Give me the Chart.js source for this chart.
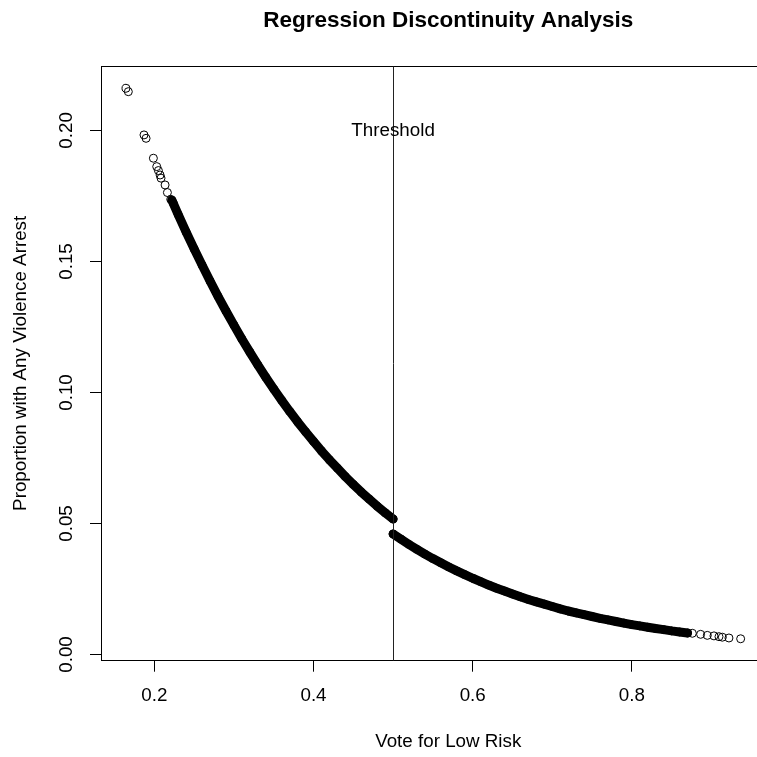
<!DOCTYPE html>
<html>
<head>
<meta charset="utf-8">
<script src="https://cdn.jsdelivr.net/npm/chart.js@4/dist/chart.umd.min.js"></script>
<style>
  html, body { margin: 0; padding: 0; background: #fff; }
  #wrap { width: 757px; height: 757px; overflow: hidden; }
</style>
</head>
<body>
<div id="wrap"><canvas id="rd" width="848" height="757"></canvas></div>
<script>
// values
var leftTailX = [0.1644, 0.1673, 0.1870, 0.1896, 0.1988, 0.2030, 0.2051, 0.2072, 0.2084, 0.2135, 0.2164, 0.2206, 0.2239];
var leftTailY = [0.2161, 0.2148, 0.1983, 0.1970, 0.1894, 0.1862, 0.1847, 0.1830, 0.1818, 0.1792, 0.1763, 0.1737, 0.1722];

var leftBandX = [0.222, 0.23, 0.24, 0.25, 0.26, 0.27, 0.28, 0.29, 0.30, 0.31, 0.32, 0.33, 0.34, 0.35, 0.36,
  0.37, 0.38, 0.39, 0.40, 0.41, 0.42, 0.43, 0.44, 0.45, 0.46, 0.47, 0.48, 0.49, 0.50];
var leftBandY = [0.1734, 0.1679, 0.1612, 0.1548, 0.1486, 0.1425, 0.1367, 0.1311, 0.1257, 0.1204, 0.1154, 0.1105, 0.1058, 0.1013, 0.0970,
  0.0928, 0.0888, 0.0850, 0.0813, 0.0777, 0.0743, 0.0711, 0.0679, 0.0649, 0.0620, 0.0593, 0.0566, 0.0541, 0.0517];

var rightBandX = [0.50, 0.51, 0.52, 0.53, 0.54, 0.55, 0.56, 0.57, 0.58, 0.59, 0.60, 0.61, 0.62, 0.63, 0.64, 0.65, 0.66, 0.67, 0.68,
  0.69, 0.70, 0.71, 0.72, 0.73, 0.74, 0.75, 0.76, 0.77, 0.78, 0.79, 0.80, 0.81, 0.82, 0.83, 0.84, 0.85, 0.86, 0.87];
var rightBandY = [0.0460, 0.0440, 0.0420, 0.0401, 0.0383, 0.0366, 0.0350, 0.0334, 0.0319, 0.0305, 0.0291, 0.0278, 0.0265, 0.0253, 0.0242, 0.0231, 0.0220, 0.0210, 0.0201,
  0.0192, 0.0183, 0.0174, 0.0166, 0.0159, 0.0152, 0.0145, 0.0138, 0.0132, 0.0126, 0.0120, 0.0114, 0.0109, 0.0104, 0.0099, 0.0095, 0.0090, 0.0086, 0.0082];

var rightTailX = [0.876, 0.8864, 0.8948, 0.9032, 0.9095, 0.9137, 0.922, 0.9367];
var rightTailY = [0.0081, 0.0077, 0.0073, 0.0071, 0.0068, 0.0066, 0.0063, 0.0060];

var xTicks = [0.2, 0.4, 0.6, 0.8];
var yTicks = [0.00, 0.05, 0.10, 0.15, 0.20];
var threshold = 0.5;
var thresholdLabel = 'Threshold';
var thresholdLabelY = 0.20;

var FONT = "'Liberation Sans', Arial, Helvetica, sans-serif";
Chart.defaults.font.family = FONT;
Chart.defaults.color = '#000';

function pts(xs, ys) {
  return xs.map((x, i) => ({x: x, y: ys[i]}));
}

var circles = {
  showLine: false,
  pointStyle: 'circle',
  pointRadius: 4,
  pointHoverRadius: 4,
  pointBorderWidth: 1,
  pointBorderColor: '#000',
  pointBackgroundColor: 'rgba(0,0,0,0)',
};

// dense part of the cloud: the circles overlap into a solid band
var band = Object.assign({}, circles, {
  showLine: true,
  borderColor: '#000',
  borderWidth: 9,
  borderCapStyle: 'round',
  borderJoinStyle: 'round',
  tension: 0,
});

// frame, threshold line and its label
var rPlot = {
  id: 'rPlot',
  afterDatasetsDraw(chart) {
    const ctx = chart.ctx;
    const a = chart.chartArea;
    const sx = chart.scales.x;
    const sy = chart.scales.y;
    const l = Math.floor(a.left) + 0.5;
    const t = Math.floor(a.top) + 0.5;
    const r = Math.floor(a.right) + 0.5;
    const b = Math.floor(a.bottom) + 0.5;
    ctx.save();
    ctx.strokeStyle = '#000';
    ctx.lineWidth = 1;
    ctx.strokeRect(l, t, r - l, b - t);
    const tx = Math.floor(sx.getPixelForValue(threshold)) + 0.5;
    ctx.strokeStyle = '#222';
    ctx.beginPath();
    ctx.moveTo(tx, t);
    ctx.lineTo(tx, b);
    ctx.stroke();
    ctx.font = '18.8px ' + FONT;
    ctx.fillStyle = '#000';
    ctx.textAlign = 'center';
    ctx.textBaseline = 'middle';
    ctx.fillText(thresholdLabel, sx.getPixelForValue(threshold), sy.getPixelForValue(thresholdLabelY));
    ctx.restore();
  },
};

new Chart(document.getElementById('rd'), {
  type: 'scatter',
  data: {
    datasets: [
      Object.assign({data: pts(leftTailX, leftTailY)}, circles),
      Object.assign({data: pts(leftBandX, leftBandY)}, band),
      Object.assign({data: pts(rightBandX, rightBandY)}, band),
      Object.assign({data: pts(rightTailX, rightTailY)}, circles),
    ],
  },
  options: {
    responsive: false,
    animation: false,
    events: [],
    layout: {padding: {left: 0, right: 53, top: 0, bottom: 0}},
    plugins: {
      legend: {display: false},
      tooltip: {enabled: false},
      title: {
        display: true,
        fullSize: false,
        text: 'Regression Discontinuity Analysis',
        color: '#000',
        font: {size: 22.5, weight: 'bold'},
        padding: {top: 7.5, bottom: 31.5},
      },
    },
    scales: {
      x: {
        type: 'linear',
        min: 0.1336,
        max: 1.005,
        afterBuildTicks: (s) => { s.ticks = xTicks.map((v) => ({value: v})); },
        afterFit: (s) => { s.height = 96.3; },
        ticks: {
          font: {size: 18.8},
          padding: 13,
          maxRotation: 0,
          autoSkip: false,
          callback: (v) => v.toFixed(1),
        },
        grid: {drawOnChartArea: false, drawTicks: true, tickLength: 11, color: '#000'},
        border: {display: false},
        title: {display: true, text: 'Vote for Low Risk', font: {size: 18.8}, padding: {top: 0, bottom: 4}},
      },
      y: {
        type: 'linear',
        min: -0.00237,
        max: 0.2246,
        afterBuildTicks: (s) => { s.ticks = yTicks.map((v) => ({value: v})); },
        afterFit: (s) => { s.width = 101.5; },
        ticks: {
          font: {size: 18.8},
          padding: 4.7,
          minRotation: 90,
          maxRotation: 90,
          crossAlign: 'center',
          autoSkip: false,
          callback: (v) => v.toFixed(2),
        },
        grid: {drawOnChartArea: false, drawTicks: true, tickLength: 11.5, color: '#000'},
        border: {display: false},
        title: {display: true, text: 'Proportion with Any Violence Arrest', font: {size: 18.8}, padding: {top: 10, bottom: 0}},
      },
    },
  },
  plugins: [rPlot],
});
</script>
</body>
</html>
